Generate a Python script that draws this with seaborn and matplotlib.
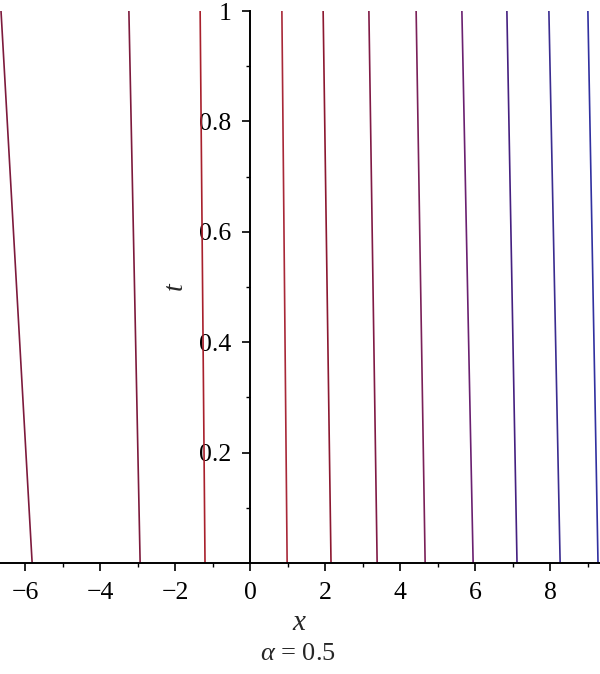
import numpy as np
import pandas as pd
import matplotlib
matplotlib.use("Agg")
import matplotlib.pyplot as plt
import seaborn as sns
from matplotlib.ticker import FixedLocator, FixedFormatter

# contour line positions: x at t=0 and x at t=1
x_at_t0 = [-5.81, -2.93, -1.20, 0.99, 2.16, 3.39, 4.67, 5.95, 7.12, 8.27, 9.28]
x_at_t1 = [-6.64, -3.23, -1.33, 0.85, 1.95, 3.17, 4.43, 5.65, 6.85, 7.97, 9.01]
t_ends = [0.0, 1.0]
line_colors = ['#7d1a3c', '#7d1a3c', '#a8202c', '#a82838', '#8c1830', '#801a45',
               '#7a2058', '#6a2070', '#452080', '#3a2c90', '#3030a0']
x_ticks = [-6, -4, -2, 0, 2, 4, 6, 8]
x_tick_labels = ['\u22126', '\u22124', '\u22122', '0', '2', '4', '6', '8']
y_ticks = [0.2, 0.4, 0.6, 0.8, 1.0]
y_tick_labels = ['0.2', '0.4', '0.6', '0.8', '1']

sns.set_style('white')
plt.rcParams['font.family'] = ['Liberation Serif', 'DejaVu Serif']
plt.rcParams['mathtext.fontset'] = 'custom'
plt.rcParams['mathtext.it'] = 'Liberation Serif:italic'
plt.rcParams['mathtext.rm'] = 'Liberation Serif'

rows = []
for i, (a, b) in enumerate(zip(x_at_t0, x_at_t1)):
    rows.append({'line': f'c{i}', 'x': a, 't': t_ends[0]})
    rows.append({'line': f'c{i}', 'x': b, 't': t_ends[1]})
df = pd.DataFrame(rows)

fig = plt.figure(figsize=(6.0, 6.74), dpi=100)
ax = fig.add_axes([0.0, 1 - 563 / 674, 1.0, 552 / 674])

sns.lineplot(data=df, x='x', y='t', hue='line', palette=line_colors,
             sort=False, estimator=None, legend=False, lw=1.2, ax=ax)

ax.set_xlim(-6.667, 9.333)
ax.set_ylim(0, 1)
for s in ['top', 'right']:
    ax.spines[s].set_visible(False)
ax.spines['left'].set_position(('data', 0))
ax.spines['bottom'].set_position(('data', 0))
for s in ['left', 'bottom']:
    ax.spines[s].set_linewidth(1.4)
    ax.spines[s].set_color('black')

ax.xaxis.set_major_locator(FixedLocator(x_ticks))
ax.xaxis.set_major_formatter(FixedFormatter(x_tick_labels))
ax.xaxis.set_minor_locator(FixedLocator([-5, -3, -1, 1, 3, 5, 7, 9]))
ax.yaxis.set_major_locator(FixedLocator(y_ticks))
ax.yaxis.set_major_formatter(FixedFormatter(y_tick_labels))
ax.yaxis.set_minor_locator(FixedLocator([0.1, 0.3, 0.5, 0.7, 0.9]))

ax.tick_params(axis='both', which='major', direction='out', length=5.5, width=1.2,
               colors='black', labelsize=18.5)
ax.tick_params(axis='both', which='minor', direction='out', length=3, width=1.0,
               colors='black')
ax.tick_params(axis='x', which='major', pad=8, bottom=True)
ax.tick_params(axis='x', which='minor', bottom=True)
ax.tick_params(axis='y', which='major', pad=8, left=True)
ax.tick_params(axis='y', which='minor', left=True)

ax.set_xlabel('')
ax.set_ylabel('')
fig.text(299 / 600, 1 - 623 / 674, 'x', fontsize=21, style='italic',
         ha='center', va='center')
fig.text(175 / 600, 1 - 286 / 674, 't', fontsize=20, style='italic',
         ha='center', va='center', rotation=90)
fig.text(298 / 600, 1 - 654 / 674, r'$\alpha$ = 0.5', fontsize=19,
         ha='center', va='center')

fig.savefig('out.png', dpi=100)
